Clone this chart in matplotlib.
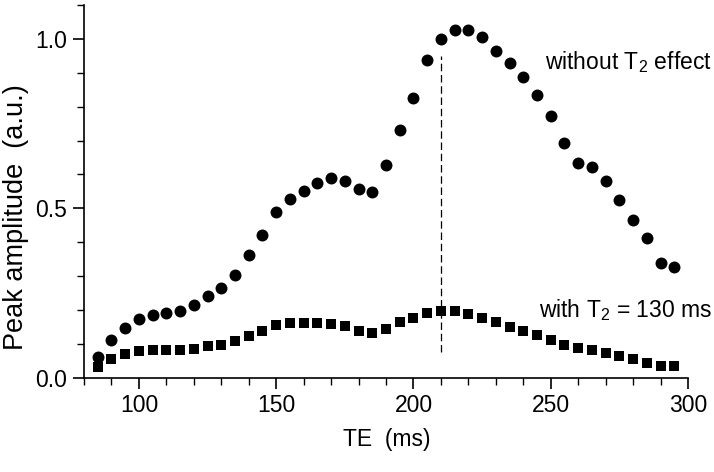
import numpy as np
import matplotlib.pyplot as plt
from matplotlib.ticker import MultipleLocator

plt.rcParams['font.family'] = ['Liberation Sans', 'DejaVu Sans']
plt.rcParams['font.size'] = 16.5
plt.rcParams['mathtext.fontset'] = 'custom'
plt.rcParams['mathtext.rm'] = 'Liberation Sans'

# Echo times (ms)
te = np.arange(85, 300, 5)

# Peak amplitude without T2 effect
amp_no_t2 = [0.060, 0.112, 0.146, 0.173, 0.185, 0.190, 0.198, 0.215, 0.241, 0.265,
             0.304, 0.361, 0.422, 0.488, 0.529, 0.552, 0.576, 0.589, 0.581, 0.558,
             0.549, 0.627, 0.730, 0.826, 0.937, 1.000, 1.027, 1.028, 1.005, 0.965,
             0.930, 0.887, 0.836, 0.772, 0.694, 0.635, 0.621, 0.581, 0.524, 0.465,
             0.411, 0.339, 0.327]

# Peak amplitude with T2 = 130 ms
amp_t2 = [0.031, 0.055, 0.070, 0.080, 0.082, 0.081, 0.081, 0.085, 0.092, 0.097,
          0.108, 0.123, 0.138, 0.154, 0.161, 0.161, 0.162, 0.159, 0.151, 0.139,
          0.132, 0.145, 0.163, 0.176, 0.192, 0.198, 0.196, 0.188, 0.177, 0.164,
          0.150, 0.139, 0.127, 0.112, 0.096, 0.086, 0.081, 0.074, 0.063, 0.054,
          0.043, 0.034, 0.033]

peak_te = 210

fig = plt.figure(figsize=(7.14, 4.72), dpi=100)
ax = fig.add_axes([0.1176, 0.2, 0.846, 0.789])

ax.plot(te, amp_no_t2, 'ko', ms=8.6, mew=0)
ax.plot(te, amp_t2, 'ks', ms=6.6, mew=0)
ax.plot([peak_te, peak_te], [0.077, 0.95], 'k--', lw=0.9, dashes=(6, 3))

ax.text(248, 0.933, r'without T$_\mathrm{2}$ effect', va='center', ha='left')
ax.text(245.8, 0.20, r'with T$_\mathrm{2}$ = 130 ms', va='center', ha='left')

ax.set_xlim(80, 300)
ax.set_ylim(0, 1.1)
ax.xaxis.set_major_locator(MultipleLocator(50))
ax.xaxis.set_minor_locator(MultipleLocator(10))
ax.yaxis.set_major_locator(MultipleLocator(0.5))
ax.yaxis.set_minor_locator(MultipleLocator(0.1))
ax.yaxis.set_major_formatter(plt.FormatStrFormatter('%.1f'))
ax.tick_params(which='major', direction='out', length=8, width=1.2, pad=4)
ax.tick_params(which='minor', direction='out', length=5, width=1.0)

ax.spines['top'].set_visible(False)
ax.spines['right'].set_visible(False)
ax.spines['left'].set_linewidth(1.2)
ax.spines['bottom'].set_linewidth(1.2)

ax.set_xlabel('TE  (ms)')
ax.set_ylabel('Peak amplitude  (a.u.)', fontsize=19.5)
ax.xaxis.set_label_coords(0.502, -0.167)
ax.yaxis.set_label_coords(-0.112, 0.43)
ax.xaxis.label.set_va('center')
ax.yaxis.label.set_va('center')

plt.savefig('out.png', dpi=100)
